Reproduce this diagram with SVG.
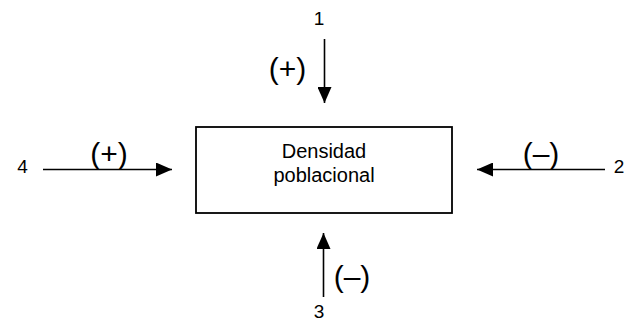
<svg xmlns="http://www.w3.org/2000/svg" width="632" height="322" viewBox="0 0 632 322">
<style>
text{font-family:"Liberation Sans",Arial,sans-serif;fill:#000}
.num{font-size:19px;text-anchor:middle}
.sign{font-size:30px;text-anchor:middle}
.box{font-size:20px;text-anchor:middle}
.ln{stroke:#000;stroke-width:1.6;fill:none}
</style>
<defs>
<marker id="ah" viewBox="0 0 16 14" refX="16" refY="7" markerWidth="16" markerHeight="14" markerUnits="userSpaceOnUse" orient="auto">
<path d="M0,0 L16,7 L0,14 Z" fill="#000"/>
</marker>
</defs>
<rect width="632" height="322" fill="#fff"/>
<g id="node-densidad">
<rect x="196" y="127" width="256" height="86" fill="#fff" stroke="#000" stroke-width="1.8"/>
<text class="box" x="324" y="158">Densidad</text>
<text class="box" x="324" y="182">poblacional</text>
</g>
<g id="connectors">
<line class="ln" x1="324.5" y1="39" x2="324.5" y2="103" marker-end="url(#ah)"/>
<line class="ln" x1="43" y1="169.5" x2="172" y2="169.5" marker-end="url(#ah)"/>
<line class="ln" x1="605" y1="169.5" x2="477" y2="169.5" marker-end="url(#ah)"/>
<line class="ln" x1="323.5" y1="297" x2="323.5" y2="233" marker-end="url(#ah)"/>
</g>
<g id="labels">
<text class="num" x="319" y="25">1</text>
<text class="sign" x="287.5" y="79">(+)</text>
<text class="num" x="22.5" y="173">4</text>
<text class="sign" x="109" y="164">(+)</text>
<text class="sign" x="541" y="164">(–)</text>
<text class="num" x="619" y="173">2</text>
<text class="sign" x="352" y="287">(–)</text>
<text class="num" x="319" y="318">3</text>
</g>
</svg>
